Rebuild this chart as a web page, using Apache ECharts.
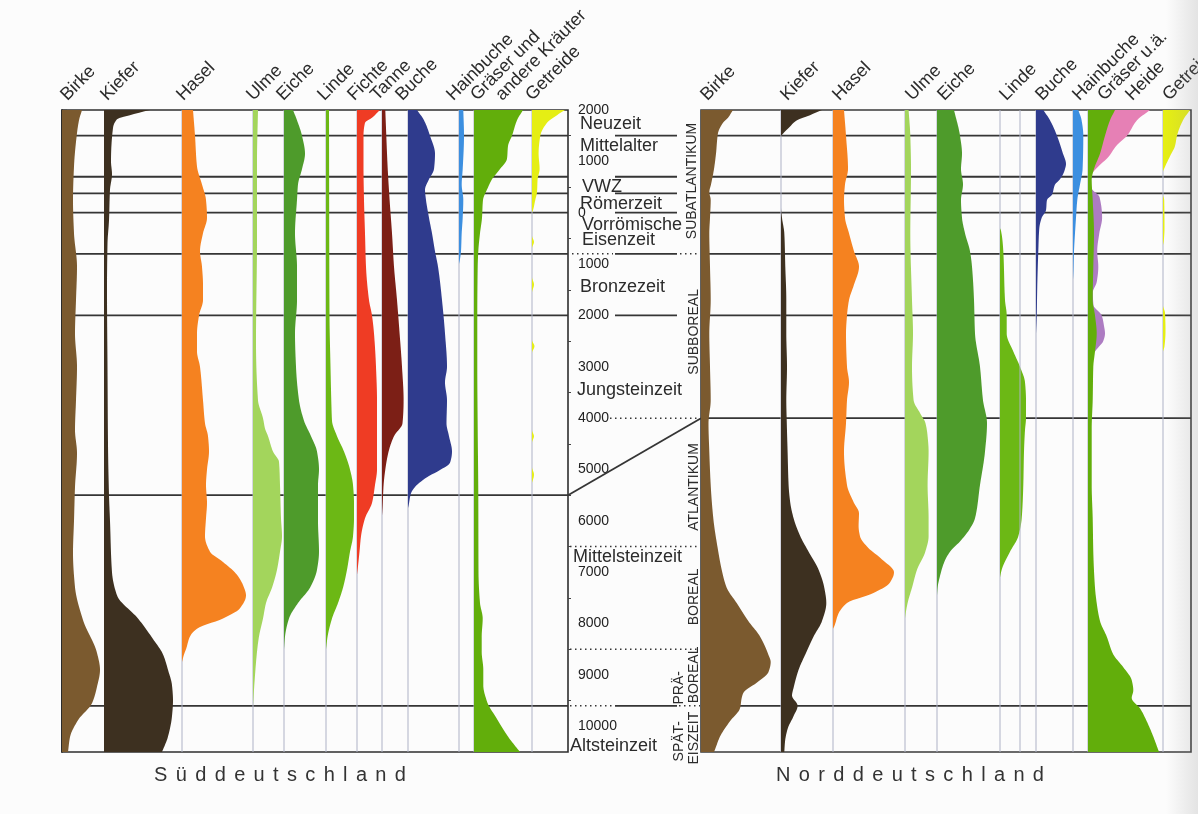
<!DOCTYPE html>
<html lang="de">
<head>
<meta charset="utf-8">
<title>Pollendiagramm Süd- und Norddeutschland</title>
<script src="https://cdn.jsdelivr.net/npm/echarts@6.0.0/dist/echarts.min.js"></script>
<style>
html, body { margin: 0; padding: 0; background: #fcfcfc; }
#chart { width: 1198px; height: 814px; }
</style>
</head>
<body>
<div id="chart"></div>
<script>
// Pollen curves: [year, share], years before Christ are negative.

// ---------- Süddeutschland ----------
const birkeS = [[2000,20],[1800,17],[1550,15],[900,12],[250,11],[-400,12],[-1050,15],[-1700,14],[-2350,13],[-3000,15],[-3650,14],[-4230,13],[-4680,15],[-5340,13],[-6000,12],[-6620,11],[-7290,13],[-7930,21],[-8570,35],[-8900,38],[-9230,35],[-9550,30],[-9880,16],[-10210,8],[-10500,6]];
const kieferS = [[2000,46],[1920,30],[1820,13],[1650,9],[1000,7],[750,8],[450,6],[-150,5],[-600,3.5],[-1500,3],[-3000,3.5],[-4500,4],[-5500,5],[-6000,6],[-7000,8],[-7450,13],[-7900,34],[-8300,49],[-8600,59],[-8900,64],[-9200,68],[-9500,69],[-9800,68],[-10200,64],[-10500,58]];
const haselS = [[2000,11],[1500,13],[900,15],[550,20],[250,24],[-100,25],[-400,21],[-750,18],[-1050,20],[-1400,21],[-1700,21],[-2000,17],[-2350,15],[-2700,15],[-3000,18],[-3650,21],[-4100,23],[-4350,26],[-4650,27],[-5000,25],[-5300,24],[-5650,25],[-5950,24],[-6300,23],[-6600,28],[-6800,41],[-7050,55],[-7250,61],[-7450,64],[-7700,58],[-7900,41],[-8100,15],[-8250,8],[-8500,4],[-8600,2],[-8750,0]];
const ulmeS = [[2000,5],[1000,4],[-500,4],[-2500,3],[-3650,5],[-4000,10],[-4200,12],[-4350,15],[-4650,20],[-4850,26],[-5300,27],[-5950,28],[-6300,29],[-6600,27],[-6950,24],[-7300,19],[-7600,13],[-7900,10],[-8250,6],[-8550,4],[-9200,1.3],[-9600,0]];
const eicheS = [[2000,9],[1800,13],[1500,18],[1150,21],[850,18],[550,14],[250,13],[-400,11],[-1050,13],[-1700,13],[-2350,11],[-3000,12],[-3650,15],[-4050,20],[-4350,27],[-4650,33],[-5000,35],[-5300,34],[-6000,34],[-6600,35],[-6950,33],[-7300,26],[-7600,14],[-7900,5],[-8250,1],[-8500,0]];
const lindeS = [[2000,3],[-2000,3.5],[-3000,4.5],[-3800,5.5],[-4050,6],[-4350,11],[-4650,18],[-5000,24],[-5300,27],[-5650,28],[-5950,28],[-6300,27],[-6600,24],[-6950,21],[-7300,17],[-7600,12],[-7900,6],[-8250,1.6],[-8500,0]];
const fichteS = [[2000,23],[1850,15],[1750,8],[1500,6.5],[900,6.5],[250,7],[-400,8],[-1050,9],[-1700,12],[-2000,15],[-2350,17],[-3000,19],[-3650,20],[-5000,20],[-5300,18],[-5650,15],[-5950,8],[-6300,4],[-6600,2.5],[-6950,0.6],[-7050,0]];
const tanneS = [[2000,3.3],[1500,4.3],[900,5.6],[250,7.6],[-400,10],[-1050,12],[-1700,15],[-2350,17.6],[-3000,20],[-3650,21.6],[-4100,20.5],[-4350,12],[-4650,6.6],[-5000,3.3],[-5300,1.6],[-5750,0.5],[-5900,0]];
const bucheS = [[2000,9],[1800,16],[1500,22],[1150,27],[850,26],[650,21],[450,17],[250,18],[-100,21],[-400,24],[-750,27],[-1050,30],[-1700,34],[-2350,37],[-3000,39],[-3300,37],[-3650,39],[-4100,38.5],[-4350,41],[-4650,44],[-4870,42],[-5010,32],[-5150,19],[-5340,7],[-5460,3],[-5700,0.6],[-5750,0]];
const hainbucheS = [[2000,4.3],[1500,5],[850,3.7],[550,2.7],[250,4.3],[-100,3.7],[-400,2.7],[-750,2],[-900,1],[-1000,0]];
const graeserS = [[2000,49],[1800,43],[1500,38],[1300,34],[1050,33],[850,26],[650,18],[450,13],[250,9],[-100,8],[-400,6],[-750,4.3],[-1050,3.7],[-2000,3.3],[-3000,3.3],[-4200,3.7],[-5500,4.3],[-7000,4.5],[-7600,6],[-7900,8.7],[-8250,7.7],[-8550,7.7],[-8900,9.3],[-9200,9.3],[-9500,12.7],[-9850,22.7],[-10200,34],[-10500,46]];
const getreideS = [[2000,33],[1900,25],[1750,15],[1500,8.3],[1150,6.6],[850,7.6],[650,5.6],[400,5],[250,3.3],[50,1],[0,0],[-450,0],[-570,2],[-690,0],[-1250,0],[-1400,2],[-1560,0],[-2480,0],[-2600,2.5],[-2730,0],[-4230,0],[-4350,2],[-4480,0],[-4950,0],[-5100,2],[-5260,0]];

// ---------- Norddeutschland ----------
const birkeN = [[2000,32],[1850,27],[1750,22],[1550,17],[1150,15],[850,13],[550,10],[400,8.3],[250,9.7],[-100,9],[-400,8.3],[-1050,9],[-1700,9.7],[-2350,8.3],[-3000,9],[-3650,9.7],[-4100,7.5],[-4650,8.3],[-5300,9.7],[-5950,12.3],[-6600,17.3],[-6950,20.7],[-7300,25.7],[-7600,35.7],[-7950,47.3],[-8250,59],[-8600,67.3],[-8750,69.7],[-8950,67.3],[-9150,55.7],[-9350,42.3],[-9450,40.7],[-9650,39],[-9900,29],[-10200,19],[-10450,14],[-10500,13]];
const kieferN = [[2000,41],[1900,29],[1800,16],[1650,7.6],[1550,2.6],[1480,0],[100,0],[-100,1],[-400,3.3],[-1050,4.3],[-1700,5.3],[-2350,5.3],[-3000,6],[-3650,5.3],[-4100,5.8],[-4650,6.6],[-5300,7.6],[-5650,9.3],[-5950,12.6],[-6300,19.3],[-6600,27.6],[-6950,37.6],[-7300,43.3],[-7600,45.3],[-7950,41],[-8250,32.6],[-8600,24.3],[-8900,17.6],[-9250,12.6],[-9400,11],[-9600,16.6],[-9800,12.6],[-10050,6.6],[-10300,4],[-10500,3.3]];
const haselN = [[2000,11],[1500,13],[850,15],[550,12],[250,11],[-100,12],[-400,16],[-750,21],[-1050,26],[-1400,21],[-1700,16],[-2000,14],[-2350,13],[-3000,14],[-3300,16],[-3650,14],[-4100,13],[-4650,11],[-5300,14],[-5650,21],[-5850,26],[-6100,25.6],[-6300,27],[-6500,34],[-6750,49],[-7000,61],[-7200,57],[-7400,41],[-7600,14],[-7800,5.6],[-8050,1.3],[-8100,0]];
const ulmeN = [[2000,3.6],[1500,5.3],[850,6],[-400,5.3],[-1700,7],[-2350,8],[-3000,7],[-3650,8.6],[-3900,15],[-4100,20.5],[-4350,22.6],[-4650,23.6],[-5300,22.6],[-5950,23.6],[-6300,23.6],[-6600,20.3],[-6950,12],[-7300,7],[-7600,2.6],[-7850,0.3],[-7900,0]];
const eicheN = [[2000,17],[1500,23],[1150,25],[850,24],[550,26],[250,24],[-100,25],[-400,28],[-750,33],[-1050,35],[-1700,37],[-2350,38],[-3000,43],[-3650,46],[-4100,50],[-4650,48],[-5300,43],[-5950,38],[-6150,33],[-6400,23],[-6600,13],[-6800,7.3],[-7050,3.3],[-7300,0.6],[-7450,0]];
const lindeN = [[-300,0],[-350,1],[-750,3.3],[-1700,5],[-2000,6.7],[-2350,6.7],[-2700,13.3],[-3000,20],[-3300,25],[-3650,26],[-4000,26],[-4230,25],[-4650,24],[-5300,23.3],[-5950,21.7],[-6300,18.3],[-6600,10],[-6950,1.7],[-7100,0]];
const bucheN = [[2000,7.3],[1800,14],[1500,21],[1150,27],[950,30],[850,29],[650,24],[550,19],[350,16],[250,11],[50,10],[-100,5.7],[-300,3.3],[-750,2.3],[-1400,1.3],[-2000,0.7],[-2350,0]];
const hainbucheN = [[2000,5.3],[1800,8.6],[1500,10.3],[850,9.6],[550,7],[250,4.3],[-100,3],[-400,2],[-750,1],[-1200,0.3],[-1300,0]];
const graeserN = [[2000,27],[1800,22],[1500,17],[1150,12],[850,6],[650,3.7],[250,4.7],[-400,6],[-1050,5.3],[-1700,4.7],[-2000,7],[-2350,8.7],[-2700,7],[-3000,5.3],[-3650,4.7],[-4200,3.7],[-5300,3.7],[-5950,4.7],[-6600,5.3],[-7300,7],[-7600,8.7],[-7950,12],[-8250,18.7],[-8600,25.3],[-8850,35.3],[-9100,43.7],[-9300,45.3],[-9450,43.7],[-9650,52],[-9900,58.7],[-10200,65.3],[-10500,71]];
const heideN = [[2000,35],[1800,27],[1500,22],[1300,14],[1100,10],[900,3.3],[800,0]];
const heideAltN = [[450,0],[300,7],[-100,8.7],[-400,5.3],[-750,3.6],[-1050,5],[-1350,3.7],[-1550,0],[-1800,0],[-2000,6.7],[-2200,8],[-2350,8.3],[-2500,7.3],[-2600,3.8],[-2700,0]];
const getreideN = [[2000,27],[1800,20],[1500,14],[1300,12],[1100,7],[850,1],[800,0],[350,0],[250,1.2],[-300,1.5],[-550,0.8],[-650,0],[-1800,0],[-1950,2],[-2300,2.5],[-2600,1.5],[-2700,0]];

// ---------- time scale ----------
const tickYears = [2000, 1000, 0, -1000, -2000, -3000, -4000, -5000, -6000, -7000, -8000, -9000, -10000];
const minorTickYears = [1500, 500, -500, -1500, -2500, -3500, -4500, -5500, -6500, -7500, -8500, -9500];

// period boundaries drawn across each panel
const boundsSouth = [1500, 700, 375, 0, -800, -2000, -5500, -9600];
const boundsNorth = [1500, 700, 375, 0, -800, -2000, -4000, -9600];
const boundsMiddle = [1500, 700, 375, 0, -800, -2000, -9600];
const zoneDotYears = [-800, -4000, -6500, -8500, -9600];

// cultural periods (label centre years)
const periodNames = ['Neuzeit', 'Mittelalter', 'VWZ', 'Römerzeit', 'Vorrömische', 'Eisenzeit', 'Bronzezeit', 'Jungsteinzeit', 'Mittelsteinzeit', 'Altsteinzeit'];
const periodYears = [1730, 1290, 500, 170, -240, -530, -1440, -3450, -6700, -10380];

// climate zones (label centre years)
const zoneNames = ['SUBATLANTIKUM', 'SUBBOREAL', 'ATLANTIKUM', 'BOREAL', 'PRÄ-', 'BOREAL', 'SPÄT-', 'EISZEIT'];
const zoneYears = [618, -2320, -5340, -7480, -9250, -9000, -10290, -10230];

// ---------- layout ----------
const FONT = '"Liberation Sans", Arial, Helvetica, sans-serif';
const YEAR_MIN = -10500, YEAR_MAX = 2000;
const PLOT_TOP = 110, PLOT_H = 642;
const SOUTH_BOX = { left: 62, width: 506 };
const NORTH_BOX = { left: 701, width: 490 };
const INK = '#2b2b2b';
const GUIDE = '#aeb2c6';
const HEADER_NUDGE = [12, -6];   // header text anchor relative to the column top

const COLORS = {
  birke: '#7b5a2f', kiefer: '#3d3020', hasel: '#f58220', ulme: '#a3d55c',
  eiche: '#4e9b2b', linde: '#6cb815', fichte: '#ef3c24', tanne: '#7c1f16',
  buche: '#2f3b8d', hainbuche: '#3c8fe0', graeser: '#62ae0b', getreide: '#e5ee14',
  heide: '#e680b5', heideAlt: '#ad7cc2'
};

// column base offsets (in share units from the panel edge) and header anchors
const southColumns = [
  { values: birkeS, base: 0, color: COLORS.birke, labels: [['Birke', -4]] },
  { values: kieferS, base: 42, color: COLORS.kiefer, labels: [['Kiefer', -6]] },
  { values: haselS, base: 120, color: COLORS.hasel, labels: [['Hasel', -8]], guide: true },
  { values: ulmeS, base: 191, color: COLORS.ulme, labels: [['Ulme', -9]], guide: true },
  { values: eicheS, base: 222, color: COLORS.eiche, labels: [['Eiche', -10]], guide: true },
  { values: lindeS, base: 264, color: COLORS.linde, labels: [['Linde', -11]], guide: true },
  { values: fichteS, base: 295, color: COLORS.fichte, labels: [['Fichte', -12]], guide: true },
  { values: tanneS, base: 320, color: COLORS.tanne, labels: [['Tanne', -14]], guide: true },
  { values: bucheS, base: 346, color: COLORS.buche, labels: [['Buche', -15]], guide: true },
  { values: hainbucheS, base: 397, color: COLORS.hainbuche, labels: [['Hainbuche', -15]], guide: true },
  { values: graeserS, base: 412, color: COLORS.graeser, labels: [['Gräser und', -6], ['andere Kräuter', 19]], guide: true },
  { values: getreideS, base: 470, color: COLORS.getreide, labels: [['Getreide', -9]], guide: true }
];

const northColumns = [
  { values: birkeN, base: 0, color: COLORS.birke, labels: [['Birke', -3]] },
  { values: kieferN, base: 80, color: COLORS.kiefer, labels: [['Kiefer', -3]], guide: true },
  { values: haselN, base: 132, color: COLORS.hasel, labels: [['Hasel', -3]], guide: true },
  { values: ulmeN, base: 204, color: COLORS.ulme, labels: [['Ulme', -2]], guide: true },
  { values: eicheN, base: 236, color: COLORS.eiche, labels: [['Eiche', -2]], guide: true },
  { values: lindeN, base: 299, color: COLORS.linde, labels: [['Linde', -3]], guide: true },
  { values: null, base: 319, labels: [], guide: true },
  { values: bucheN, base: 335, color: COLORS.buche, labels: [['Buche', -3]], guide: true },
  { values: hainbucheN, base: 372, color: COLORS.hainbuche, labels: [['Hainbuche', -3]], guide: true },
  { values: heideN, stackOn: graeserN, base: 387, color: COLORS.heide, labels: [['Heide', 35]] },
  { values: heideAltN, stackOn: graeserN, base: 387, color: COLORS.heideAlt, labels: [] },
  { values: graeserN, base: 387, color: COLORS.graeser, labels: [['Gräser u.ä.', 7]], guide: true },
  { values: getreideN, base: 462, color: COLORS.getreide, labels: [['Getreide', -3]], guide: true }
];

// ---------- geometry helpers ----------
// share of a curve at a given year (for layers stacked on another curve)
function shareAt(curve, year) {
  for (let i = 0; i < curve.length - 1; i++) {
    const [y0, v0] = curve[i], [y1, v1] = curve[i + 1];
    if (year <= y0 && year >= y1) return v0 + (v1 - v0) * (y0 - year) / (y0 - y1);
  }
  return 0;
}

// monotone cubic outline through pixel points ordered top to bottom
function smoothOutline(pts) {
  const n = pts.length;
  if (n < 3) return pts.slice();
  const h = [], d = [];
  for (let i = 0; i < n - 1; i++) {
    h[i] = pts[i + 1][1] - pts[i][1];
    d[i] = (pts[i + 1][0] - pts[i][0]) / h[i];
  }
  const m = new Array(n);
  m[0] = d[0];
  m[n - 1] = d[n - 2];
  for (let i = 1; i < n - 1; i++) {
    if (d[i - 1] * d[i] <= 0) { m[i] = 0; continue; }
    const w1 = 2 * h[i] + h[i - 1], w2 = h[i] + 2 * h[i - 1];
    m[i] = (w1 + w2) / (w1 / d[i - 1] + w2 / d[i]);
  }
  const out = [];
  for (let i = 0; i < n - 1; i++) {
    const steps = Math.max(2, Math.ceil(h[i] / 1.5));
    for (let s = 0; s < steps; s++) {
      const t = s / steps, t2 = t * t, t3 = t2 * t;
      const x = (2 * t3 - 3 * t2 + 1) * pts[i][0] + (t3 - 2 * t2 + t) * h[i] * m[i]
              + (-2 * t3 + 3 * t2) * pts[i + 1][0] + (t3 - t2) * h[i] * m[i + 1];
      out.push([x, pts[i][1] + t * h[i]]);
    }
  }
  out.push(pts[n - 1]);
  return out;
}

function columnSeries(col, axisIdx) {
  return {
    type: 'custom',
    xAxisIndex: axisIdx.x,
    yAxisIndex: axisIdx.y,
    silent: true,
    z: 2,
    data: [[col.base, YEAR_MAX]],
    renderItem: function (params, api) {
      const children = [];
      if (col.guide) {
        const a = api.coord([col.base, YEAR_MAX]), b = api.coord([col.base, YEAR_MIN]);
        children.push({ type: 'line', shape: { x1: a[0], y1: a[1], x2: b[0], y2: b[1] },
          style: { stroke: GUIDE, lineWidth: 1 } });
      }
      if (col.values) {
        const vals = col.stackOn
          ? col.values.map(([yr, v]) => [yr, v + shareAt(col.stackOn, yr)])
          : col.values;
        const pts = vals.map(([yr, v]) => api.coord([col.base + v, yr]));
        const top = api.coord([col.base, vals[0][0]]);
        const bottom = api.coord([col.base, vals[vals.length - 1][0]]);
        children.push({ type: 'polygon',
          shape: { points: [top].concat(smoothOutline(pts), [bottom]) },
          style: { fill: col.color } });
      }
      col.labels.forEach(([text, dx]) => {
        const p = api.coord([col.base + dx, YEAR_MAX]);
        children.push({ type: 'text', x: p[0] + HEADER_NUDGE[0], y: p[1] + HEADER_NUDGE[1], rotation: Math.PI / 4,
          style: { text: text, fill: INK, font: '18px ' + FONT,
            textAlign: 'left', textVerticalAlign: 'bottom', verticalAlign: 'bottom' } });
      });
      return { type: 'group', children: children };
    }
  };
}

// ---------- boundary segments (overlay x in page pixels) ----------
const segments = [];
boundsSouth.forEach(y => segments.push([SOUTH_BOX.left, y, SOUTH_BOX.left + SOUTH_BOX.width, y, 0]));
boundsNorth.forEach(y => segments.push([NORTH_BOX.left, y, NORTH_BOX.left + NORTH_BOX.width, y, 0]));
boundsMiddle.forEach(y => segments.push([615, y, 677, y, 0]));
const dotRuns = { '-800': [[572, 613], [680, 700]], '-4000': [[610, 700]], '-6500': [[570, 700]],
  '-8500': [[570, 700]], '-9600': [[570, 613], [679, 700]] };
zoneDotYears.forEach(y => dotRuns[String(y)].forEach(([a, b]) => segments.push([a, y, b, y, 1])));
// the south 5500 BC boundary meets the north 4000 BC boundary
segments.push([SOUTH_BOX.left + SOUTH_BOX.width, boundsSouth[6], NORTH_BOX.left, boundsNorth[6], 0]);

const periodX = [580, 580, 582, 580, 582, 582, 580, 577, 573, 570];
const zoneX = [692, 694, 694, 694, 679, 694, 679, 694];

const overlayAxes = { xAxisIndex: 2, yAxisIndex: 3 };

const series = [];
series.push(Object.assign({
  type: 'custom', silent: true, z: 1,
  data: segments,
  renderItem: function (params, api) {
    const p1 = api.coord([api.value(0), api.value(1)]);
    const p2 = api.coord([api.value(2), api.value(3)]);
    const dotted = api.value(4) === 1;
    return { type: 'line', shape: { x1: p1[0], y1: p1[1], x2: p2[0], y2: p2[1] },
      style: { stroke: '#353535', lineWidth: dotted ? 1.5 : 1.8, lineDash: dotted ? [1.5, 3.5] : null } };
  }
}, overlayAxes));

southColumns.forEach(c => series.push(columnSeries(c, { x: 0, y: 0 })));
northColumns.forEach(c => series.push(columnSeries(c, { x: 1, y: 2 })));

series.push(Object.assign({
  type: 'custom', silent: true, z: 4,
  data: periodNames.map((n, i) => [periodX[i], periodYears[i]]),
  renderItem: function (params, api) {
    const p = api.coord([api.value(0), api.value(1)]);
    return { type: 'text', x: p[0], y: p[1],
      style: { text: periodNames[params.dataIndex], fill: INK, font: '18px ' + FONT,
        textAlign: 'left', textVerticalAlign: 'middle', verticalAlign: 'middle' } };
  }
}, overlayAxes));

series.push(Object.assign({
  type: 'custom', silent: true, z: 4,
  data: zoneNames.map((n, i) => [zoneX[i], zoneYears[i]]),
  renderItem: function (params, api) {
    const p = api.coord([api.value(0), api.value(1)]);
    return { type: 'text', x: p[0], y: p[1], rotation: Math.PI / 2,
      style: { text: zoneNames[params.dataIndex], fill: INK, font: '14px ' + FONT,
        textAlign: 'center', textVerticalAlign: 'middle', verticalAlign: 'middle' } };
  }
}, overlayAxes));

// letter-spaced region names
const spaced = s => s.split('').join('\u2004\u200A');

const option = {
  animation: false,
  backgroundColor: '#fcfcfc',
  grid: [
    { left: SOUTH_BOX.left, top: PLOT_TOP, width: SOUTH_BOX.width, height: PLOT_H, show: true, borderColor: '#2e2e2e', borderWidth: 1.6 },
    { left: NORTH_BOX.left, top: PLOT_TOP, width: NORTH_BOX.width, height: PLOT_H, show: true, borderColor: '#3a3a3a', borderWidth: 1.6 },
    { left: 0, top: PLOT_TOP, width: 1198, height: PLOT_H }
  ],
  xAxis: [
    { gridIndex: 0, type: 'value', min: 0, max: SOUTH_BOX.width, show: false },
    { gridIndex: 1, type: 'value', min: 0, max: NORTH_BOX.width, show: false },
    { gridIndex: 2, type: 'value', min: 0, max: 1198, show: false }
  ],
  yAxis: [
    { gridIndex: 0, type: 'value', min: YEAR_MIN, max: YEAR_MAX, position: 'right',
      axisLine: { show: true, lineStyle: { color: '#222', width: 1.6 } },
      axisTick: { show: true, customValues: tickYears, length: 5, lineStyle: { color: '#222', width: 1.3 } },
      axisLabel: { show: true, customValues: tickYears, margin: 10, fontSize: 14, fontFamily: FONT, color: '#222',
        formatter: v => String(Math.abs(v)) },
      splitLine: { show: false } },
    { gridIndex: 0, type: 'value', min: YEAR_MIN, max: YEAR_MAX, position: 'right',
      axisLine: { show: false },
      axisTick: { show: true, customValues: minorTickYears, length: 3, lineStyle: { color: '#444', width: 1 } },
      axisLabel: { show: false }, splitLine: { show: false } },
    { gridIndex: 1, type: 'value', min: YEAR_MIN, max: YEAR_MAX, show: false },
    { gridIndex: 2, type: 'value', min: YEAR_MIN, max: YEAR_MAX, show: false }
  ],
  graphic: [
    { type: 'rect', silent: true, z: 10, shape: { x: 1166, y: 0, width: 32, height: 814 },
      style: { fill: { type: 'linear', x: 0, y: 0, x2: 1, y2: 0,
        colorStops: [{ offset: 0, color: 'rgba(140,140,140,0)' }, { offset: 1, color: 'rgba(140,140,140,0.22)' }] } } },
    { type: 'text', silent: true, x: 280, y: 775,
      style: { text: spaced('Süddeutschland'), fill: '#333', font: '20px ' + FONT, textAlign: 'center', textVerticalAlign: 'middle', verticalAlign: 'middle' } },
    { type: 'text', silent: true, x: 910, y: 775,
      style: { text: spaced('Norddeutschland'), fill: '#333', font: '20px ' + FONT, textAlign: 'center', textVerticalAlign: 'middle', verticalAlign: 'middle' } }
  ],
  series: series
};

const chart = echarts.init(document.getElementById('chart'), null, { renderer: 'canvas' });
chart.setOption(option);
</script>
</body>
</html>
